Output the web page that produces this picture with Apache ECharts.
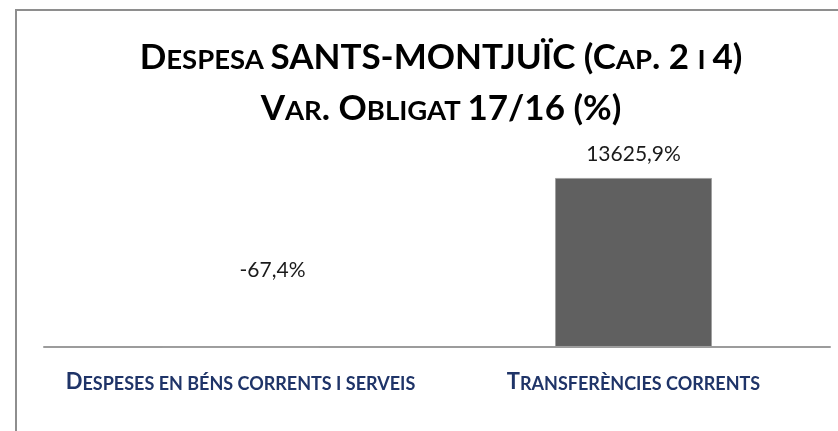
<!DOCTYPE html>
<html>
<head>
<meta charset="utf-8">
<script src="https://cdn.jsdelivr.net/npm/echarts@6/dist/echarts.min.js"></script>
<style>
  html, body { margin: 0; padding: 0; background: #fff; }
  #chart { width: 838px; height: 431px; }
</style>
</head>
<body>
<div id="chart"></div>
<script>
// Chart text and values
const titleLines = ['Despesa SANTS-MONTJUÏC (Cap. 2 i 4)', 'Var. Obligat 17/16 (%)'];
const categories = ['Despeses en béns corrents i serveis', 'Transferències corrents'];
const values = [-67.4, 13625.9];

// Build rich-text markup that renders lowercase letters as small capitals
function smallCaps(text, big, small) {
  let out = '', cur = null, buf = '';
  for (const ch of text) {
    const isLower = ch !== ch.toUpperCase();
    const kind = isLower ? small : (ch === ' ' && cur ? cur : big);
    if (kind !== cur && buf) { out += '{' + cur + '|' + buf + '}'; buf = ''; }
    cur = kind;
    buf += ch.toUpperCase();
  }
  if (buf) out += '{' + cur + '|' + buf + '}';
  return out;
}

const fmtPct = v => v.toFixed(1).replace('.', ',') + '%';

const chart = echarts.init(document.getElementById('chart'), null, { renderer: 'canvas' });

const option = {
  animation: false,
  backgroundColor: '#ffffff',
  title: {
    text: titleLines.map(l => smallCaps(l, 'b', 's')).join('\n'),
    left: 436,
    top: 27,
    textAlign: 'center',
    textStyle: {
      rich: {
        b: { fontFamily: 'Lato', fontWeight: 'bold', fontSize: 35, lineHeight: 51, color: '#000' },
        s: { fontFamily: 'Lato', fontWeight: 'bold', fontSize: 27.5, padding: [5, 0, 0, 0], color: '#000' }
      }
    }
  },
  graphic: [{
    type: 'rect',
    silent: true,
    shape: { x: 16, y: 10, width: 1000, height: 1000 },
    style: { fill: 'none', stroke: '#8e8e8e', lineWidth: 2 }
  }],
  grid: { left: 44, right: 8, top: 148.5, bottom: 82.8 },
  xAxis: {
    type: 'category',
    data: categories,
    axisLine: { show: true, lineStyle: { color: '#9c9c9c', width: 2 } },
    axisTick: { show: false },
    axisLabel: {
      margin: 21,
      interval: 0,
      formatter: v => smallCaps(v, 'b', 's'),
      rich: {
        b: { fontFamily: 'Lato', fontWeight: 'bold', fontSize: 22, lineHeight: 26, color: '#1f3468' },
        s: { fontFamily: 'Lato', fontWeight: 'bold', fontSize: 18, padding: [3, 0, 0, 0], color: '#1f3468' }
      }
    }
  },
  yAxis: {
    type: 'value',
    min: -100,
    max: 16000,
    show: false,
    splitLine: { show: false }
  },
  series: [{
    type: 'bar',
    barWidth: 157,
    data: values.map((v, i) => ({
      value: v,
      label: i === 0 ? { position: 'top', offset: [32, -53] } : {}
    })),
    itemStyle: { color: '#606060', borderColor: '#a0a0a0', borderWidth: 1 },
    label: {
      show: true,
      position: 'top',
      distance: 13,
      formatter: p => fmtPct(p.value),
      fontFamily: 'Lato',
      fontSize: 21,
      color: '#1a1a1a'
    }
  }]
};

chart.setOption(option);
</script>
</body>
</html>
